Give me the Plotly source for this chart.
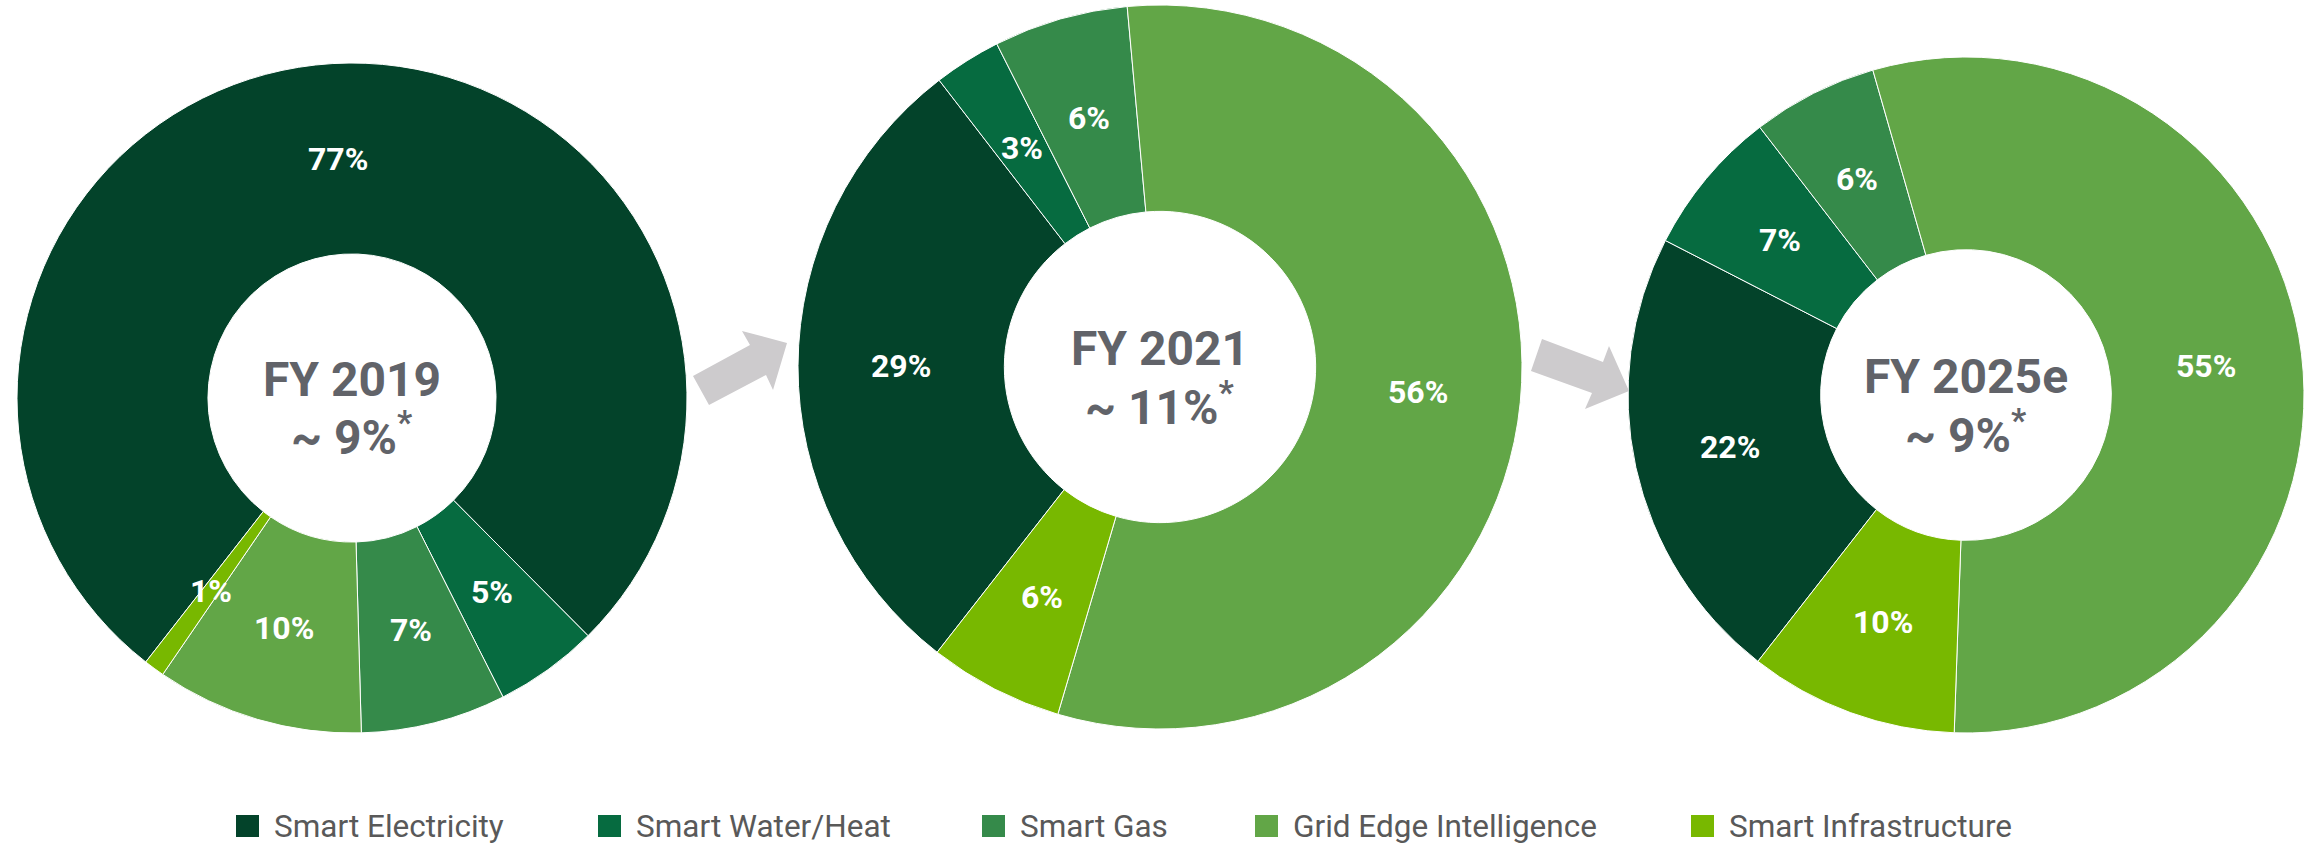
import math
import plotly.graph_objects as go

W, H = 2318, 845

categories = ["Smart Electricity", "Smart Water/Heat", "Smart Gas",
              "Grid Edge Intelligence", "Smart Infrastructure"]
colors = ["#03432A", "#066B40", "#358A4A", "#62A647", "#78B800"]

years = ["FY 2019", "FY 2021", "FY 2025e"]
growth = ["~ 9%", "~ 11%", "~ 9%"]

share_2019 = [77, 5, 7, 10, 1]
share_2021 = [29, 3, 6, 56, 6]
share_2025 = [22, 7, 6, 55, 10]
shares = [share_2019, share_2021, share_2025]

# geometry in pixels: (center x, center y, radius)
geom = [(352, 398, 335), (1160, 367, 362), (1966, 395, 338)]
HOLE = 0.43
ROTATION = 218


def px(x):
    return x / W


def py(y):
    return 1 - y / H


fig = go.Figure()
annotations = []

for vals, (cx, cy, r), yr, gr in zip(shares, geom, years, growth):
    fig.add_trace(go.Pie(
        labels=categories, values=vals, sort=False, direction="clockwise",
        rotation=ROTATION, hole=HOLE, textinfo="none", hoverinfo="label+percent",
        marker=dict(colors=colors, line=dict(color="white", width=1)),
        domain=dict(x=[px(cx - r), px(cx + r)], y=[py(cy + r), py(cy - r)]),
        showlegend=False,
    ))
    total = sum(vals)
    cum = 0
    rmid = r * (1 + HOLE) / 2
    for v in vals:
        mid = math.radians(ROTATION + (cum + v / 2) / total * 360)
        cum += v
        lx = cx + rmid * math.sin(mid)
        ly = cy - rmid * math.cos(mid)
        annotations.append(dict(
            x=px(lx), y=py(ly), xref="paper", yref="paper", showarrow=False,
            text=f"{v}%", xanchor="center", yanchor="middle",
            font=dict(family="Roboto", size=32, color="white", weight=700)))
    annotations.append(dict(
        x=px(cx), y=py(cy - 19), xref="paper", yref="paper", showarrow=False,
        text=yr, xanchor="center", yanchor="middle",
        font=dict(family="Roboto", size=48, color="#616369", weight=700)))
    annotations.append(dict(
        x=px(cx), y=py(cy + 37), xref="paper", yref="paper", showarrow=False,
        text=f"{gr}<sup>*</sup>", xanchor="center", yanchor="middle",
        font=dict(family="Roboto", size=48, color="#616369", weight=700)))

shapes = []
# arrows between pies (decoration)
arrows = [
    [(693, 376), (750, 345), (742, 331), (787, 343), (773, 390), (766, 375), (709, 405)],
    [(1542, 339), (1603, 362), (1609, 346), (1629, 391), (1585, 409), (1592, 393), (1531, 371)],
]
for pts in arrows:
    path = "M " + " L ".join(f"{px(x):.5f},{py(y):.5f}" for x, y in pts) + " Z"
    shapes.append(dict(type="path", path=path, xref="paper", yref="paper",
                       fillcolor="#CDCBCD", line=dict(width=0)))

# legend
legend_x = [236, 598, 982, 1255, 1691]
ly0 = 826
for x, c, name in zip(legend_x, colors, categories):
    shapes.append(dict(type="rect", xref="paper", yref="paper",
                       x0=px(x), x1=px(x + 23), y0=py(ly0 + 11), y1=py(ly0 - 11),
                       fillcolor=c, line=dict(width=0)))
    annotations.append(dict(
        x=px(x + 36), y=py(ly0), xref="paper", yref="paper", showarrow=False,
        text=name, xanchor="left", yanchor="middle",
        font=dict(family="Roboto", size=31.5, color="#595959")))

fig.update_layout(
    width=W, height=H, margin=dict(l=0, r=0, t=0, b=0),
    paper_bgcolor="white", plot_bgcolor="white",
    annotations=annotations, shapes=shapes, showlegend=False,
)

fig.write_html("out.html", config={"displayModeBar": False},
               post_script="document.body.style.margin='0';document.body.style.overflow='hidden';")
